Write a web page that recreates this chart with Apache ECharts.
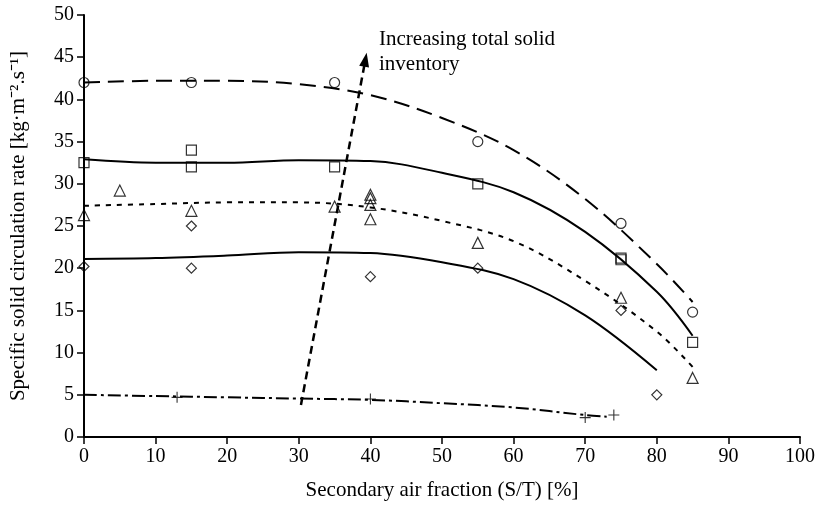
<!DOCTYPE html>
<html>
<head>
<meta charset="utf-8">
<script src="https://cdn.jsdelivr.net/npm/echarts@6/dist/echarts.min.js"></script>
<style>
  html, body { margin: 0; padding: 0; background: #fff; }
  #chart { width: 821px; height: 506px; }
</style>
</head>
<body>
<div id="chart"></div>
<script>
// Measured points, [S/T %, rate]
const circlePts = [[0, 42], [15, 42], [35, 42], [55, 35], [75, 25.3], [85, 14.8]];
const squarePts = [[0, 32.5], [15, 34], [15, 32], [35, 32], [55, 30], [75, 21.2], [75, 21], [85, 11.2]];
const trianglePts = [[0, 26.3], [5, 29.2], [15, 26.8], [35, 27.3], [40, 28.7], [40, 28.3], [40, 27.5], [40, 25.8], [55, 23], [75, 16.5], [85, 7]];
const diamondPts = [[0, 20.2], [15, 20], [15, 25], [40, 19], [55, 20], [75, 15], [80, 5]];
const plusPts = [[13, 4.7], [40, 4.5], [70, 2.3], [74, 2.6]];

// Trend curves, sampled along x
const circleFit = [[0, 42], [10, 42.2], [20, 42.2], [30, 41.8], [40, 40.5], [50, 37.8], [60, 34], [70, 28.2], [80, 20.5], [85, 16]];
const squareFit = [[0, 32.9], [10, 32.5], [20, 32.5], [30, 32.8], [40, 32.7], [50, 31.3], [60, 29], [70, 24.3], [80, 17.2], [85, 12]];
const triangleFit = [[0, 27.4], [10, 27.6], [20, 27.8], [30, 27.8], [40, 27.2], [50, 25.6], [60, 23.2], [70, 18.5], [80, 12.5], [85, 8.3]];
const diamondFit = [[0, 21.1], [10, 21.2], [20, 21.5], [30, 21.9], [40, 21.8], [50, 20.7], [60, 18.7], [70, 14.4], [80, 7.9]];
const plusFit = [[0, 5], [10, 4.85], [20, 4.7], [30, 4.55], [40, 4.4], [50, 4.0], [60, 3.5], [70, 2.6], [73, 2.4]];

// Arrow showing the direction of increasing inventory
const arrowFrom = [30.3, 3.8];
const arrowTo = [39.3, 44.7];
const arrowText = 'Increasing total solid\ninventory';

const xTicks = [0, 10, 20, 30, 40, 50, 60, 70, 80, 90, 100];
const yTicks = [0, 5, 10, 15, 20, 25, 30, 35, 40, 45, 50];

const FONT = '"Liberation Serif", "Times New Roman", serif';
const plusPath = 'path://M4.5,0h1v4.5h4.5v1h-4.5v4.5h-1v-4.5h-4.5v-1h4.5z';

function curve(data, type, width) {
  return {
    type: 'line', data: data, smooth: 0.35, symbol: 'none', silent: true,
    lineStyle: { color: '#000', width: width || 2, type: type },
    z: 2
  };
}
function marks(data, symbol, size, filled) {
  return {
    type: 'scatter', data: data, symbol: symbol, symbolSize: size, silent: true,
    itemStyle: filled ? { color: '#000' } : { color: 'rgba(0,0,0,0)', borderColor: '#000', borderWidth: 1.2 },
    z: 3
  };
}

const chart = echarts.init(document.getElementById('chart'), null, { renderer: 'canvas' });
chart.setOption({
  animation: false,
  backgroundColor: '#fff',
  textStyle: { fontFamily: FONT, color: '#000' },
  grid: { left: 83, right: 21, top: 15, bottom: 67 },
  xAxis: {
    type: 'value', min: xTicks[0], max: xTicks[xTicks.length - 1], interval: 10,
    name: 'Secondary air fraction (S/T) [%]', nameLocation: 'middle', nameGap: 43,
    nameTextStyle: { fontFamily: FONT, fontSize: 21, color: '#000' },
    axisLine: { lineStyle: { color: '#000', width: 2 } },
    axisTick: { show: true, length: 7, lineStyle: { color: '#000', width: 1.5 } },
    axisLabel: { fontFamily: FONT, fontSize: 20, color: '#000', margin: 10 },
    splitLine: { show: false }
  },
  yAxis: {
    type: 'value', min: yTicks[0], max: yTicks[yTicks.length - 1], interval: 5,
    name: 'Specific solid circulation rate [kg\u00b7m\u207b\u00b2.s\u207b\u00b9]',
    nameLocation: 'middle', nameGap: 55,
    nameTextStyle: { fontFamily: FONT, fontSize: 21, color: '#000' },
    axisLine: { show: true, lineStyle: { color: '#000', width: 2 } },
    axisTick: { show: true, length: 7, lineStyle: { color: '#000', width: 1.5 } },
    axisLabel: { fontFamily: FONT, fontSize: 20, color: '#000', margin: 10 },
    splitLine: { show: false }
  },
  series: [
    curve(circleFit, [16, 8]),
    curve(squareFit, 'solid'),
    curve(triangleFit, [5, 6]),
    curve(diamondFit, 'solid'),
    curve(plusFit, [13, 4, 3, 4]),
    {
      type: 'line', data: [], silent: true,
      markLine: {
        silent: true, symbol: ['none', 'triangle'], symbolSize: [10, 14],
        label: { show: false },
        lineStyle: { color: '#000', width: 2.5, type: [8, 5] },
        data: [[{ coord: arrowFrom }, { coord: arrowTo }]]
      }
    },
    marks(circlePts, 'circle', 10),
    marks(squarePts, 'rect', 10),
    marks(trianglePts, 'triangle', 11),
    marks(diamondPts, 'diamond', 10),
    marks(plusPts, plusPath, 11, true)
  ],
  graphic: [{
    type: 'text', left: 379, top: 27,
    style: { text: arrowText, fontFamily: FONT, fontSize: 21, lineHeight: 25, fill: '#000' }
  }]
});
</script>
</body>
</html>
